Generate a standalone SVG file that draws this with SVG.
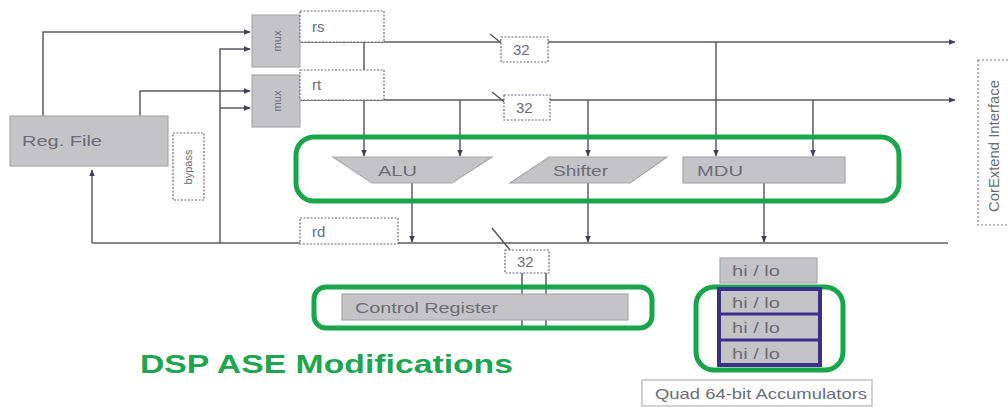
<svg xmlns="http://www.w3.org/2000/svg" width="1008" height="407" viewBox="0 0 1008 407">
  <defs>
    <marker id="arr" viewBox="0 0 10 10" refX="9" refY="5" markerWidth="7" markerHeight="7" orient="auto" markerUnits="userSpaceOnUse">
      <path d="M0,1 L10,5 L0,9 Z" fill="#3f3f55"/>
    </marker>
    <style>
      .blk { fill: #c4c4c6; stroke: #a9a9ad; stroke-width: 1.2; }
      .wire { fill: none; stroke: #5a5a66; stroke-width: 1.5; }
      .dot { fill: #ffffff; stroke: #6a6a80; stroke-width: 1.2; stroke-dasharray: 2 1.5; }
      .grn { fill: none; stroke: #19a54a; stroke-width: 5; }
      .lbl { font-family: "Liberation Sans", Arial, sans-serif; fill: #6c6c78; font-size: 15px; }
      .sm { font-family: "Liberation Sans", Arial, sans-serif; fill: #6c6c78; font-size: 11px; }
      .acc { fill: #c4c4c6; stroke: #3c2f8c; stroke-width: 4; }
    </style>
  </defs>

  <!-- wiring -->
  <g id="connectors">
    <path class="wire" d="M43,116 V32 H250" marker-end="url(#arr)"/>
    <path class="wire" d="M140,116 V91 H250" marker-end="url(#arr)"/>
    <path class="wire" d="M220,243 V49 H250" marker-end="url(#arr)"/>
    <path class="wire" d="M220,108 H250" marker-end="url(#arr)"/>
    <path class="wire" d="M92,243 V170" marker-end="url(#arr)"/>
    <path class="wire" d="M92,243 H948"/>
    <path class="wire" d="M300,42 H955" marker-end="url(#arr)"/>
    <path class="wire" d="M300,100 H955" marker-end="url(#arr)"/>
    <path class="wire" d="M364,42 V156" marker-end="url(#arr)"/>
    <path class="wire" d="M460,100 V156" marker-end="url(#arr)"/>
    <path class="wire" d="M588,100 V156" marker-end="url(#arr)"/>
    <path class="wire" d="M716,42 V156" marker-end="url(#arr)"/>
    <path class="wire" d="M813,100 V156" marker-end="url(#arr)"/>
    <path class="wire" d="M412,183 V242" marker-end="url(#arr)"/>
    <path class="wire" d="M588,183 V242" marker-end="url(#arr)"/>
    <path class="wire" d="M764,183 V242" marker-end="url(#arr)"/>
    <path class="wire" d="M522,272 V330 M546,272 V330" stroke-width="1.2"/>
    <!-- bus width ticks -->
    <path class="wire" d="M490,34 L505,46 M492,92 L507,104 M492,228 L510,250" stroke-width="1.2"/>
  </g>

  <g id="reg-file">
    <rect class="blk" x="10" y="116" width="158" height="50"/>
    <text class="lbl" x="22" y="146" textLength="80" lengthAdjust="spacingAndGlyphs">Reg. File</text>
  </g>

  <g id="bypass">
    <rect class="dot" x="173" y="133" width="31" height="67"/>
    <text class="sm" transform="translate(192,167) rotate(-90)" text-anchor="middle">bypass</text>
  </g>

  <g id="mux-rs">
    <rect class="blk" x="252" y="15" width="48" height="52"/>
    <text class="sm" transform="translate(281,41) rotate(-90)" text-anchor="middle" font-size="12">mux</text>
  </g>
  <g id="mux-rt">
    <rect class="blk" x="252" y="75" width="48" height="52"/>
    <text class="sm" transform="translate(281,101) rotate(-90)" text-anchor="middle" font-size="12">mux</text>
  </g>

  <g id="rs">
    <rect class="dot" x="300" y="11" width="84" height="31"/>
    <text class="lbl" x="312" y="32">rs</text>
  </g>
  <g id="rt">
    <rect class="dot" x="300" y="70" width="84" height="30"/>
    <text class="lbl" x="312" y="90">rt</text>
  </g>
  <g id="rd">
    <rect class="dot" x="300" y="218" width="98" height="26"/>
    <text class="lbl" x="312" y="237">rd</text>
  </g>

  <g id="width-rs">
    <rect class="dot" x="501" y="37" width="47" height="25"/>
    <text class="lbl" x="513" y="55">32</text>
  </g>
  <g id="width-rt">
    <rect class="dot" x="504" y="95" width="46" height="25"/>
    <text class="lbl" x="516" y="113">32</text>
  </g>
  <g id="width-rd">
    <rect class="dot" x="505" y="250" width="44" height="23"/>
    <text class="lbl" x="517" y="267">32</text>
  </g>

  <g id="execution-units">
    <rect class="grn" x="296" y="137" width="603" height="64" rx="18"/>
    <g id="alu">
      <path class="blk" d="M333,157 H492 L452,183 H372 Z"/>
      <text class="lbl" x="378" y="176" textLength="39" lengthAdjust="spacingAndGlyphs">ALU</text>
    </g>
    <g id="shifter">
      <path class="blk" d="M549,157 H667 L630,183 H510 Z"/>
      <text class="lbl" x="553" y="176" textLength="55" lengthAdjust="spacingAndGlyphs">Shifter</text>
    </g>
    <g id="mdu">
      <rect class="blk" x="683" y="157" width="162" height="26"/>
      <text class="lbl" x="697" y="176" textLength="46" lengthAdjust="spacingAndGlyphs">MDU</text>
    </g>
  </g>

  <g id="control-register">
    <rect class="grn" x="314" y="287" width="338" height="41" rx="12"/>
    <rect class="blk" x="342" y="294" width="286" height="26"/>
    <text class="lbl" x="355" y="313" textLength="143" lengthAdjust="spacingAndGlyphs">Control Register</text>
  </g>

  <g id="hilo">
    <rect class="blk" x="720" y="258" width="97" height="25"/>
    <text class="lbl" x="732" y="276" textLength="48" lengthAdjust="spacingAndGlyphs">hi / lo</text>
  </g>

  <g id="accumulators">
    <rect class="grn" x="696" y="287" width="147" height="83" rx="18"/>
    <rect class="acc" x="719" y="289" width="101" height="76"/>
    <path d="M719,314 H820 M719,340 H820" stroke="#3c2f8c" stroke-width="3"/>
    <text class="lbl" x="732" y="308" textLength="48" lengthAdjust="spacingAndGlyphs">hi / lo</text>
    <text class="lbl" x="732" y="333" textLength="48" lengthAdjust="spacingAndGlyphs">hi / lo</text>
    <text class="lbl" x="732" y="359" textLength="48" lengthAdjust="spacingAndGlyphs">hi / lo</text>
  </g>

  <g id="accumulators-caption">
    <rect x="642" y="380" width="230" height="26" fill="#ffffff" stroke="#b4b4b8" stroke-width="1.2"/>
    <text class="lbl" x="655" y="399" font-size="14" textLength="212" lengthAdjust="spacingAndGlyphs">Quad 64-bit Accumulators</text>
  </g>

  <g id="corextend">
    <rect x="978" y="60" width="34" height="165" fill="none" stroke="#7a7a8a" stroke-width="1.2" stroke-dasharray="2 2"/>
    <text class="lbl" transform="translate(999,146) rotate(-90)" text-anchor="middle" font-size="14" textLength="132" lengthAdjust="spacingAndGlyphs">CorExtend Interface</text>
  </g>

  <text x="140" y="373" font-family="Liberation Sans, Arial, sans-serif" font-weight="bold" font-size="25" fill="#1fa450" textLength="373" lengthAdjust="spacingAndGlyphs">DSP ASE Modifications</text>
</svg>
